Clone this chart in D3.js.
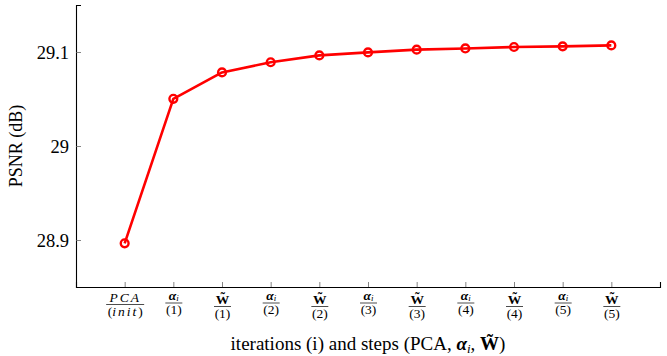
<!DOCTYPE html>
<html>
<head>
<meta charset="utf-8">
<script src="https://cdn.jsdelivr.net/npm/d3@7"></script>
<style>
  body { margin: 0; background: #fff; }
  svg text { font-family: 'Liberation Serif', 'Times New Roman', 'DejaVu Serif', serif; fill: #000; }
</style>
</head>
<body>
<div id="chart"></div>
<script>
// step kind per iteration (numerator) and iteration index (denominator)
const steps = ['PCA', 'alpha', 'W', 'alpha', 'W', 'alpha', 'W', 'alpha', 'W', 'alpha', 'W'];
const iters = ['init', '1', '1', '2', '2', '3', '3', '4', '4', '5', '5'];
const psnr = [28.8965, 29.0502, 29.0783, 29.0891, 29.0964, 29.0996, 29.1025, 29.1038, 29.1053, 29.106, 29.107];
const yTicks = [28.9, 29, 29.1];

const WIDTH = 667;
const HEIGHT = 356;
const margin = { top: 5, right: 7, bottom: 69, left: 76 };
const SERIF = "'Liberation Serif', 'Times New Roman', serif";

const svg = d3.select('#chart').append('svg')
  .attr('width', WIDTH)
  .attr('height', HEIGHT)
  .attr('font-family', SERIF);

const keys = steps.map((s, i) => `${s}-${iters[i]}-${i}`);

const x = d3.scalePoint()
  .domain(keys)
  .range([margin.left, WIDTH - margin.right])
  .padding(1);

const y = d3.scaleLinear()
  .domain([28.85, 29.15])
  .range([HEIGHT - margin.bottom, margin.top]);

const yAxis = d3.axisLeft(y)
  .tickValues(yTicks)
  .tickSize(-5)
  .tickPadding(7)
  .tickFormat(d3.format('~g'));

const gy = svg.append('g')
  .attr('transform', `translate(${margin.left},0)`)
  .call(yAxis)
  .attr('font-family', SERIF);

gy.select('.domain').attr('stroke', '#000').attr('stroke-width', 1.1);
gy.selectAll('.tick line').attr('stroke', '#666').attr('stroke-width', 0.8);
gy.selectAll('.tick text')
  .attr('font-size', 18.5)
  .attr('dy', '0.34em');

const xAxis = d3.axisBottom(x)
  .tickSize(-5)
  .tickFormat('');

const gx = svg.append('g')
  .attr('transform', `translate(0,${HEIGHT - margin.bottom})`)
  .call(xAxis)
  .attr('font-family', SERIF);

gx.select('.domain').attr('stroke', '#000').attr('stroke-width', 1.1);
gx.selectAll('.tick line').attr('stroke', '#666').attr('stroke-width', 0.8);

// fraction tick labels: step over (iteration)
const fracSize = 13.5;
const tick = gx.selectAll('.tick');

tick.each(function(d, i) {
  const g = d3.select(this);
  const s = steps[i];
  let barY = 16;
  let barW = 17;

  if (s === 'PCA') barY = 17.5;
  if (s === 'W') barY = 19.5;

  const num = g.append('text')
    .attr('text-anchor', 'middle')
    .attr('y', barY - 3)
    .attr('font-size', fracSize);

  if (s === 'PCA') {
    num.append('tspan').attr('font-style', 'italic').attr('letter-spacing', 2).text('PCA');
  } else if (s === 'alpha') {
    num.attr('y', barY - 3.5);
    num.append('tspan').attr('font-weight', 'bold').attr('font-style', 'italic').text('α');
    num.append('tspan').attr('font-style', 'italic').attr('font-size', 9).attr('dy', 1).text('i');
  } else {
    num.append('tspan').attr('font-weight', 'bold').text('W\u0303');
  }

  const den = g.append('text')
    .attr('text-anchor', 'middle')
    .attr('y', barY + 11)
    .attr('font-size', fracSize);
  if (iters[i] === 'init') {
    den.append('tspan').text('(');
    den.append('tspan').attr('font-style', 'italic').attr('letter-spacing', 2).text('init');
    den.append('tspan').text(')');
    barW = 38;
  } else {
    den.text(`(${iters[i]})`);
  }

  g.append('line')
    .attr('x1', -barW / 2)
    .attr('x2', barW / 2)
    .attr('y1', barY)
    .attr('y2', barY)
    .attr('stroke', '#000')
    .attr('stroke-width', 0.7);
});

// series
const pts = psnr.map((v, i) => ({ k: keys[i], v }));

const line = d3.line()
  .x(d => x(d.k))
  .y(d => y(d.v));

svg.append('path')
  .datum(pts)
  .attr('fill', 'none')
  .attr('stroke', '#ff0000')
  .attr('stroke-width', 2.6)
  .attr('stroke-linejoin', 'round')
  .attr('d', line);

svg.selectAll('circle.mark')
  .data(pts)
  .enter().append('circle')
  .attr('class', 'mark')
  .attr('cx', d => x(d.k))
  .attr('cy', d => y(d.v))
  .attr('r', 3.9)
  .attr('fill', 'none')
  .attr('stroke', '#ff0000')
  .attr('stroke-width', 2.4);

// axis titles
svg.append('text')
  .attr('transform', `translate(22,${(margin.top + HEIGHT - margin.bottom) / 2}) rotate(-90)`)
  .attr('text-anchor', 'middle')
  .attr('font-size', 18)
  .text('PSNR (dB)');

const xt = svg.append('text')
  .attr('x', (margin.left + WIDTH - margin.right) / 2)
  .attr('y', 350)
  .attr('text-anchor', 'middle')
  .attr('font-size', 19);

xt.append('tspan').text('iterations (i) and steps (PCA, ');
xt.append('tspan').attr('font-weight', 'bold').attr('font-style', 'italic').text('α');
xt.append('tspan').attr('font-style', 'italic').attr('font-size', 13).attr('dy', 3).text('i');
xt.append('tspan').attr('dy', -3).text(', ');
xt.append('tspan').attr('font-weight', 'bold').text('W\u0303');
xt.append('tspan').text(')');
</script>
</body>
</html>
